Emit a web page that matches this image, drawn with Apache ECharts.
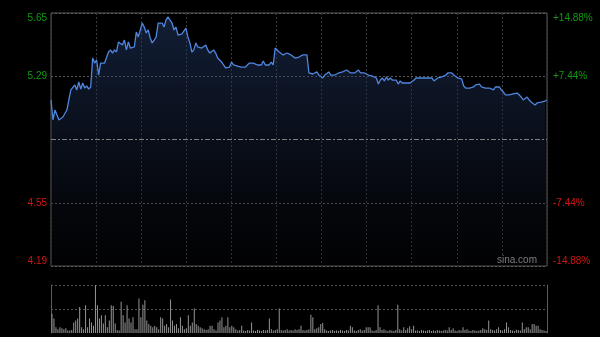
<!DOCTYPE html>
<html><head><meta charset="utf-8">
<script src="https://cdn.jsdelivr.net/npm/echarts@6/dist/echarts.min.js"></script>
<style>html,body{margin:0;padding:0;background:#000;}#c{width:600px;height:337px;}</style>
</head><body><div id="c"></div>
<script>
var prevClose = 4.92;
var priceMin = 4.19, priceMax = 5.65, priceStep = 0.365;
var leftTickLabels = ['4.19', '4.55', '', '5.29', '5.65'];
var rightTickLabels = ['-14.88%', '-7.44%', '', '+7.44%', '+14.88%'];
var prices = [
5.148,5.033,5.090,5.096,5.033,5.044,5.050,5.061,5.090,5.148,5.206,5.211,5.235,5.206,5.252,5.211,5.246,5.217,5.229,5.211,5.223,5.390,5.361,5.379,5.292,5.361,5.350,5.361,5.350,5.425,5.437,5.419,5.437,5.425,5.483,5.477,5.465,5.494,5.437,5.483,5.448,5.437,5.454,5.540,5.512,5.523,5.592,5.569,5.535,
5.552,5.506,5.477,5.494,5.512,5.592,5.581,5.592,5.569,5.610,5.627,5.638,5.592,5.552,5.569,5.523,5.529,5.529,5.535,5.563,5.512,5.477,5.425,5.437,5.477,5.454,5.465,5.448,5.454,5.465,5.437,5.419,5.425,5.437,5.419,5.390,5.379,5.367,5.361,5.333,5.338,5.338,5.367,5.350,5.344,5.344,5.338,5.338,5.333,5.338,
5.338,5.361,5.361,5.361,5.361,5.350,5.361,5.350,5.373,5.350,5.356,5.350,5.367,5.350,5.448,5.454,5.425,5.419,5.408,5.419,5.419,5.419,5.408,5.419,5.390,5.390,5.396,5.396,5.408,5.413,5.408,5.304,5.298,5.298,5.304,5.310,5.292,5.286,5.275,5.292,5.281,5.310,5.292,5.292,5.292,5.286,5.304,5.298,5.310,5.310,5.321,
5.321,5.304,5.310,5.304,5.315,5.321,5.304,5.315,5.304,5.315,5.292,5.298,5.286,5.281,5.275,5.240,5.263,5.275,5.258,5.281,5.263,5.275,5.263,5.252,5.263,5.240,5.258,5.246,5.246,5.246,5.246,5.246,5.235,5.263,5.275,5.269,5.275,5.275,5.275,5.275,5.275,5.269,5.275,5.258,5.269,5.275,5.275,5.281,5.286,5.292,
5.304,5.304,5.304,5.292,5.281,5.275,5.275,5.269,5.229,5.217,5.223,5.217,5.223,5.223,5.235,5.246,5.240,5.223,5.223,5.217,5.223,5.217,5.223,5.206,5.223,5.217,5.223,5.206,5.194,5.177,5.177,5.177,5.177,5.183,5.188,5.188,5.177,5.165,5.148,5.154,5.165,5.148,5.136,5.131,5.119,5.131,5.136,5.136,5.136,5.142,5.148
];
var volumes = [
40,30,12,8,12,10,8,10,5,5,6,22,26,30,54,12,8,58,12,30,22,15,100,58,30,37,20,37,12,26,58,56,20,6,5,65,37,22,58,30,22,33,8,8,72,33,59,68,26,19,
15,12,15,12,8,33,30,15,19,12,70,26,15,19,10,33,15,8,10,37,15,22,51,19,15,12,10,8,6,8,15,15,8,5,22,26,33,12,15,33,12,15,12,8,5,6,15,5,4,6,
5,22,5,4,6,5,4,6,5,6,30,8,5,6,8,51,6,5,6,8,5,6,5,8,6,8,15,6,5,6,8,38,33,8,10,12,19,21,8,5,4,5,6,4,5,4,6,5,4,6,
5,15,12,5,4,6,8,5,6,12,12,12,5,4,6,58,12,6,8,5,4,6,5,4,6,59,8,5,12,6,10,14,8,15,5,5,4,6,5,4,5,6,4,5,4,6,5,4,5,6,
5,12,6,10,5,4,6,5,12,6,8,5,4,6,5,4,5,6,10,8,6,26,8,6,5,8,12,6,5,8,22,12,6,5,4,7,6,5,22,8,12,12,8,19,19,15,15,8,6,5,4
];
var cats = prices.map(function (_, i) { return i; });

var chart = echarts.init(document.getElementById('c'), null, {renderer: 'canvas'});
var labelFont = {fontFamily: 'Liberation Sans, Arial, sans-serif', fontSize: 10};
function sideColor(v) { return v > prevClose + 0.001 ? '#119a11' : (v < prevClose - 0.001 ? '#d41414' : '#888'); }

chart.setOption({
  backgroundColor: '#000',
  animation: false,
  grid: [
    {left: 51, right: 53, top: 13, bottom: 71, show: true, borderColor: '#5c5c5c', borderWidth: 1, backgroundColor: 'transparent'},
    {left: 51, right: 53, top: 285, bottom: 4}
  ],
  xAxis: [
    {type: 'category', gridIndex: 0, data: cats, boundaryGap: false, show: false},
    {type: 'value', gridIndex: 0, min: 0, max: 11, interval: 1, axisLine: {show: false}, axisTick: {show: false}, axisLabel: {show: false},
     splitLine: {show: true, lineStyle: {color: '#3a3a3a', type: [2, 2], width: 1}}},
    {type: 'category', gridIndex: 1, data: cats, boundaryGap: true, show: false}
  ],
  yAxis: [
    {type: 'value', gridIndex: 0, min: priceMin, max: priceMax, interval: priceStep, position: 'left',
     axisLine: {show: false}, axisTick: {show: false},
     axisLabel: Object.assign({margin: 4, formatter: function (v, i) { return leftTickLabels[i]; }, color: sideColor,
       verticalAlignMaxLabel: 'top', verticalAlignMinLabel: 'bottom'}, labelFont),
     splitLine: {show: true, lineStyle: {color: ['#5c5c5c', '#5a5a5a', 'transparent', '#5a5a5a', '#5c5c5c'], type: [2, 2], width: 1}}},
    {type: 'value', gridIndex: 0, min: priceMin, max: priceMax, interval: priceStep, position: 'right',
     axisLine: {show: false}, axisTick: {show: false}, splitLine: {show: false},
     axisLabel: Object.assign({margin: 6, formatter: function (v, i) { return rightTickLabels[i]; }, color: sideColor,
       verticalAlignMaxLabel: 'top', verticalAlignMinLabel: 'bottom'}, labelFont)},
    {type: 'value', gridIndex: 1, min: 0, max: 100, interval: 50, position: 'left',
     axisLine: {show: true, lineStyle: {color: '#5c5c5c', width: 1}}, axisTick: {show: false}, axisLabel: {show: false},
     splitLine: {show: true, lineStyle: {color: ['transparent', '#555', '#555'], type: [2, 2], width: 1}}},
    {type: 'value', gridIndex: 1, min: 0, max: 100, position: 'right',
     axisLine: {show: true, lineStyle: {color: '#5c5c5c', width: 1}}, axisTick: {show: false}, axisLabel: {show: false}, splitLine: {show: false}}
  ],
  series: [
    {type: 'line', xAxisIndex: 0, yAxisIndex: 0, data: prices, showSymbol: false, symbol: 'none',
     lineStyle: {color: '#4f86e0', width: 1.3},
     areaStyle: {origin: 'start', color: new echarts.graphic.LinearGradient(0, 0, 0, 1, [
       {offset: 0, color: 'rgba(40,66,118,0.66)'}, {offset: 0.55, color: 'rgba(22,34,60,0.55)'}, {offset: 1, color: 'rgba(8,10,16,0.3)'}])},
     markLine: {silent: true, symbol: 'none', label: {show: false},
       lineStyle: {color: '#808080', type: [5, 2, 2, 2], width: 1},
       data: [{yAxis: prevClose}]},
     z: 3},
    {type: 'bar', xAxisIndex: 2, yAxisIndex: 2, data: volumes, barWidth: 1, itemStyle: {color: '#959595'}, z: 2}
  ],
  graphic: [
    {type: 'text', right: 63, top: 255, style: {text: 'sina.com', fill: '#9a9a9a', font: '10px "Liberation Sans", Arial, sans-serif'}}
  ]
});
</script></body></html>
